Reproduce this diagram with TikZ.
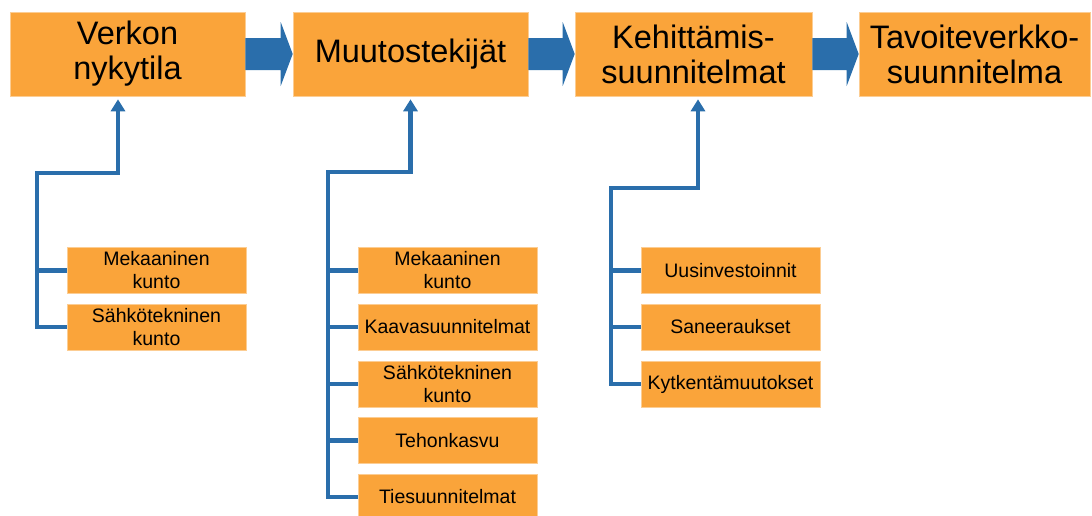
\documentclass[tikz,border=0pt]{standalone}
\usepackage{fontspec}
\setmainfont{Liberation Sans}
\usetikzlibrary{arrows.meta,calc}
\definecolor{boxorange}{HTML}{FAA43A}
\definecolor{flowblue}{HTML}{2A6EAB}

\begin{document}
\begin{tikzpicture}[x=1pt,y=-1pt,
  phase/.style={fill=boxorange,draw=boxorange!55!white,line width=0.6pt,inner sep=0pt,
    minimum height=84pt,align=center,font=\fontsize{32.5}{35}\selectfont},
  factor/.style={fill=boxorange,draw=boxorange!55!white,line width=0.6pt,inner sep=0pt,
    minimum width=179pt,minimum height=46pt,align=center,font=\fontsize{19.5}{23}\selectfont},
  link/.style={draw=flowblue,line width=4.8pt},
  uplink/.style={link,-{Triangle[width=14pt,length=12pt]},shorten >=3pt}]
  \useasboundingbox (0,0) rectangle (1092,515);
  \clip (0,0) rectangle (1092,515);

  % main phases
  \node[phase,minimum width=235pt] (now) at (127.5,54) {Verkon\\nykytila};
  \node[phase,minimum width=235pt] (drivers) at (410.5,54) {Muutostekijät};
  \node[phase,minimum width=237pt] (plans) at (693.5,54) {Kehittämis-\\suunnitelmat};
  \node[phase,minimum width=231pt] (target) at (974.5,54) {Tavoiteverkko-\\suunnitelma};

  \foreach \a/\b in {now/drivers,drivers/plans,plans/target}
    \fill[flowblue] ($(\a.east)+(0,-16)$) -- ($(\b.west)+(-12,-16)$) -- ($(\b.west)+(-12,-32)$)
      -- (\b.west) -- ($(\b.west)+(-12,32)$) -- ($(\b.west)+(-12,16)$) -- ($(\a.east)+(0,16)$) -- cycle;

  % inputs
  \node[factor] (c1a) at (156.5,270.5) {Mekaaninen\\kunto};
  \node[factor] (c1b) at (156.5,327) {Sähkötekninen\\kunto};

  \node[factor] (c2a) at (447.5,270.5) {Mekaaninen\\kunto};
  \node[factor] (c2b) at (447.5,327) {Kaavasuunnitelmat};
  \node[factor] (c2c) at (447.5,384) {Sähkötekninen\\kunto};
  \node[factor] (c2d) at (447.5,440.5) {Tehonkasvu};
  \node[factor] (c2e) at (447.5,497) {Tiesuunnitelmat};

  \node[factor] (c3a) at (730.5,270.5) {Uusinvestoinnit};
  \node[factor] (c3b) at (730.5,327) {Saneeraukset};
  \node[factor] (c3c) at (730.5,384) {Kytkentämuutokset};

  % feeder lines
  \coordinate (k1) at (37,173);
  \coordinate (k2) at (328,172);
  \coordinate (k3) at (611,188);
  \draw[uplink] (c1b.west) -| (k1) -| ($(now.south)+(-9.5,0)$);
  \draw[link] (c1a.west) -- (c1a.west -| k1);
  \draw[uplink] (c2e.west) -| (k2) -| (drivers.south);
  \foreach \n in {c2a,c2b,c2c,c2d}
    \draw[link] (\n.west) -- (\n.west -| k2);
  \draw[uplink] (c3c.west) -| (k3) -| ($(plans.south)+(4.5,0)$);
  \foreach \n in {c3a,c3b}
    \draw[link] (\n.west) -- (\n.west -| k3);
\end{tikzpicture}
\end{document}
